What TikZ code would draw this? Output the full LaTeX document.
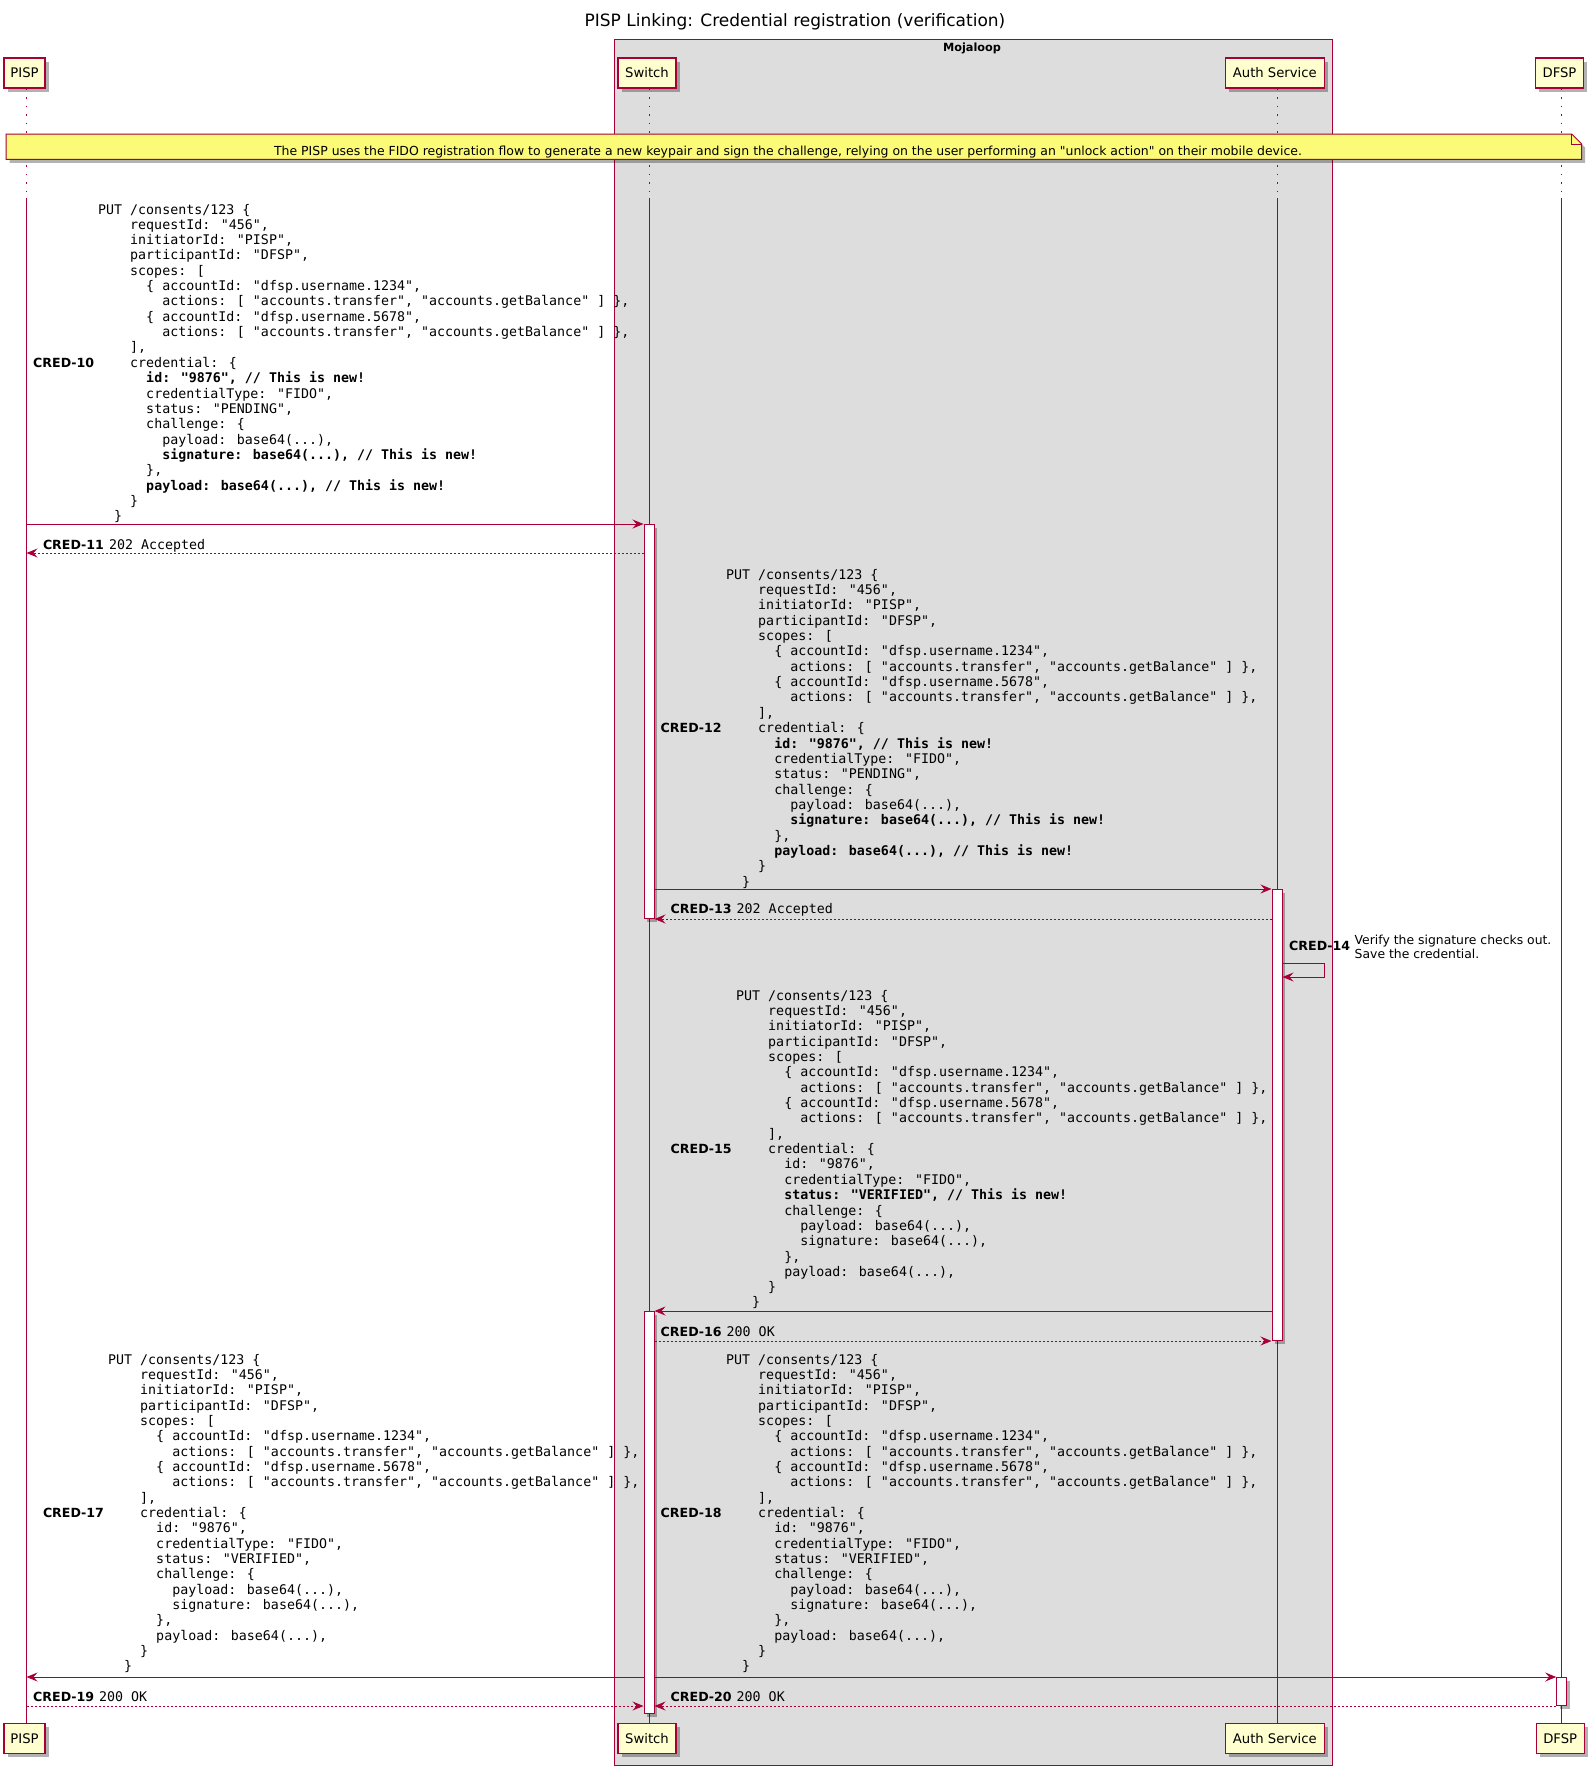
\documentclass[tikz,border=0pt]{standalone}
\usepackage{fontspec}
\setmainfont{DejaVu Sans}[Ligatures=TeXOff]
\newfontfamily\codefont{DejaVu Sans Mono}
\usetikzlibrary{arrows.meta,shadows}

\definecolor{umlred}{HTML}{A80036}
\definecolor{partfill}{HTML}{FEFECE}
\definecolor{notefill}{HTML}{FBFB77}
\definecolor{groupfill}{HTML}{DDDDDD}

% indentation measured in character cells of the current monospaced font
\newcommand\ind[1]{\hspace*{\dimexpr#1\fontcharwd\font`0\relax}}
\newcommand\lblfont{\fontsize{12.6}{15}\selectfont\bfseries}
\newcommand\msgfont{\normalfont\codefont\fontsize{13.3}{15.33}\selectfont}

% request body shared by all PUT /consents/123 messages
\newcommand\headLines{%
PUT /consents/123 \{\\
\ind{4}requestId: "456",\\
\ind{4}initiatorId: "PISP",\\
\ind{4}participantId: "DFSP",\\
\ind{4}scopes: [\\
\ind{6}\{ accountId: "dfsp.username.1234",\\
\ind{8}actions: [ "accounts.transfer", "accounts.getBalance" ] \},\\
\ind{6}\{ accountId: "dfsp.username.5678",\\
\ind{8}actions: [ "accounts.transfer", "accounts.getBalance" ] \},\\
\ind{4}],\\
\ind{4}credential: \{\\}
\newcommand\pendingTail{%
\ind{6}\textbf{id: "9876", // This is new!}\\
\ind{6}credentialType: "FIDO",\\
\ind{6}status: "PENDING",\\
\ind{6}challenge: \{\\
\ind{8}payload: base64(...),\\
\ind{8}\textbf{signature: base64(...), // This is new!}\\
\ind{6}\},\\
\ind{6}\textbf{payload: base64(...), // This is new!}\\
\ind{4}\}\\
\ind{2}\}}
\newcommand\verifiedNewTail{%
\ind{6}id: "9876",\\
\ind{6}credentialType: "FIDO",\\
\ind{6}\textbf{status: "VERIFIED", // This is new!}\\
\ind{6}challenge: \{\\
\ind{8}payload: base64(...),\\
\ind{8}signature: base64(...),\\
\ind{6}\},\\
\ind{6}payload: base64(...),\\
\ind{4}\}\\
\ind{2}\}}
\newcommand\verifiedTail{%
\ind{6}id: "9876",\\
\ind{6}credentialType: "FIDO",\\
\ind{6}status: "VERIFIED",\\
\ind{6}challenge: \{\\
\ind{8}payload: base64(...),\\
\ind{8}signature: base64(...),\\
\ind{6}\},\\
\ind{6}payload: base64(...),\\
\ind{4}\}\\
\ind{2}\}}
\newcommand\codetab[1]{\begin{tabular}[t]{@{}l@{}}#1\end{tabular}}

\tikzset{
  participant/.style={draw=umlred, fill=partfill, line width=1.4pt,
    minimum height=30pt, inner sep=0pt, font=\fontsize{13.2}{15}\selectfont,
    drop shadow={shadow xshift=3.5pt, shadow yshift=-3.5pt, opacity=0.3, fill=black}},
  lifeline/.style={draw=umlred, line width=0.8pt},
  dotline/.style={lifeline, dash pattern=on 1.5pt off 7pt},
  actbar/.style={draw=umlred, fill=white, line width=1pt, minimum width=10pt,
    inner sep=0pt, anchor=north,
    drop shadow={shadow xshift=3pt, shadow yshift=-3pt, opacity=0.3, fill=black}},
  msg/.style={draw=umlred, line width=1pt, -{Stealth[length=11pt, width=9pt, inset=4pt]}},
  reply/.style={msg, dash pattern=on 2pt off 2pt},
  msglabel/.style={anchor=base west, inner sep=0pt, font=\lblfont},
  codeblock/.style={anchor=base west, inner sep=0pt, font=\msgfont},
  groupbox/.style={draw=umlred, fill=groupfill, line width=1.2pt, inner sep=0pt},
  notebox/.style={draw=umlred, fill=notefill, line width=1pt,
    drop shadow={shadow xshift=3.5pt, shadow yshift=-3.5pt, opacity=0.3, fill=black}},
}

\begin{document}
\begin{tikzpicture}[x=1pt, y=-1pt]
\fill[white] (0,0) rectangle (1594,1775);
\useasboundingbox (0,0) rectangle (1594,1775);

% title
\node[font=\fontsize{17}{20}\selectfont, anchor=base, inner sep=0pt] (title) at (795,26.7)
  {PISP Linking: Credential registration (verification)};

% Mojaloop group
\node[groupbox, minimum width=718pt, minimum height=1726pt, anchor=north west] (mojaloop) at (614,39) {};
\node[font=\fontsize{11.3}{13}\selectfont\bfseries, anchor=base, inner sep=0pt] (mojalooplbl) at (972,51.5) {Mojaloop};

% participants, top and bottom
\node[participant, minimum width=41pt] (pisp) at (24.5,73) {PISP};
\node[participant, minimum width=58pt] (switch) at (647,73) {Switch};
\node[participant, minimum width=99pt] (auth) at (1274.8,73) {Auth Service};
\node[participant, minimum width=48pt] (dfsp) at (1559.5,73) {DFSP};
\node[participant, minimum width=41pt] (pispB) at (24.5,1738.5) {PISP};
\node[participant, minimum width=58pt] (switchB) at (647,1738.5) {Switch};
\node[participant, minimum width=99pt] (authB) at (1274.8,1738.5) {Auth Service};
\node[participant, minimum width=48pt] (dfspB) at (1560.2,1738.5) {DFSP};

% lifelines
\coordinate (pispX) at ([xshift=2pt]pisp.south);
\coordinate (swX) at ([xshift=2pt]switch.south);
\coordinate (authX) at ([xshift=2.2pt]auth.south);
\coordinate (dfspX) at ([xshift=2.2pt]dfsp.south);
\foreach \p/\b in {pispX/pispB, swX/switchB, authX/authB, dfspX/dfspB}{
  \draw[dotline] (\p) -- (\p |- 0,198);
  \draw[lifeline] (\p |- 0,198) -- (\p |- \b.north);
}

% note across all participants
\filldraw[notebox] (6,134) -- (1571.7,134) -- (1581.7,144) -- (1581.7,159.3) -- (6,159.3) -- cycle;
\draw[umlred, line width=1pt] (1571.7,134) -- (1571.7,144) -- (1581.7,144);
\node[font=\fontsize{12.45}{14}\selectfont, anchor=base, inner sep=0pt] (note) at (788,155)
  {The PISP uses the FIDO registration flow to generate a new keypair and sign the challenge, relying on the user performing an "unlock action" on their mobile device.};

% activation bars
\node[actbar, minimum height=394pt] (swA) at (swX |- 0,524) {};
\node[actbar, minimum height=451pt] (authA) at (authX |- 0,889) {};
\node[actbar, minimum height=402pt] (swB) at (swX |- 0,1311) {};
\node[actbar, minimum height=28pt] (dfspA) at (dfspX |- 0,1677) {};

% CRED-10
\node[msglabel] (l10) at (33,367.3) {CRED-10};
\node[codeblock] (b10) at (98,214) {\codetab{\headLines\pendingTail}};
\draw[msg] (pispX |- swA.north) -- (swA.north west);

% CRED-11
\node[msglabel] (l11) at (42.8,549) {CRED-11\hspace{5pt}{\msgfont 202 Accepted}};
\draw[reply] (swA.west |- 0,553) -- (pispX |- 0,553);

% CRED-12
\node[msglabel] (l12) at (660.5,732.6) {CRED-12};
\node[codeblock] (b12) at (726,579.3) {\codetab{\headLines\pendingTail}};
\draw[msg] (swA.east |- authA.north) -- (authA.north west);

% CRED-13
\node[msglabel] (l13) at (670.5,913.3) {CRED-13\hspace{5pt}{\msgfont 202 Accepted}};
\draw[reply] (authA.west |- swA.south) -- (swA.south east);

% CRED-14 (self message)
\node[msglabel] (l14) at (1289,950.7) {CRED-14};
\node[anchor=base west, inner sep=0pt, font=\fontsize{12.4}{14}\selectfont] (t14) at (1354.5,944)
  {\begin{tabular}[t]{@{}l@{}}Verify the signature checks out.\\Save the credential.\end{tabular}};
\draw[msg] (authA.east |- 0,963) -- (1324,963) -- (1324,977) -- (authA.east |- 0,977);

% CRED-15
\node[msglabel] (l15) at (670.5,1153.6) {CRED-15};
\node[codeblock] (b15) at (736,1000.3) {\codetab{\headLines\verifiedNewTail}};
\draw[msg] (authA.west |- swB.north) -- (swB.north east);

% CRED-16
\node[msglabel] (l16) at (660.5,1336.3) {CRED-16\hspace{5pt}{\msgfont 200 OK}};
\draw[reply] (swB.east |- authA.south) -- (authA.south west);

% CRED-17
\node[msglabel] (l17) at (42.8,1517.6) {CRED-17};
\node[codeblock] (b17) at (108,1364.3) {\codetab{\headLines\verifiedTail}};
\draw[msg] (swB.west |- dfspA.north) -- (pispX |- dfspA.north);

% CRED-18
\node[msglabel] (l18) at (660.5,1517.6) {CRED-18};
\node[codeblock] (b18) at (726,1364.3) {\codetab{\headLines\verifiedTail}};
\draw[msg] (swB.east |- dfspA.north) -- (dfspA.north west);

% CRED-19
\node[msglabel] (l19) at (33,1701) {CRED-19\hspace{5pt}{\msgfont 200 OK}};
\draw[reply] (pispX |- dfspA.south) -- (swB.west |- dfspA.south);

% CRED-20
\node[msglabel] (l20) at (670.5,1701) {CRED-20\hspace{5pt}{\msgfont 200 OK}};
\draw[reply] (dfspA.south west) -- (swB.east |- dfspA.south);
\end{tikzpicture}
\end{document}
